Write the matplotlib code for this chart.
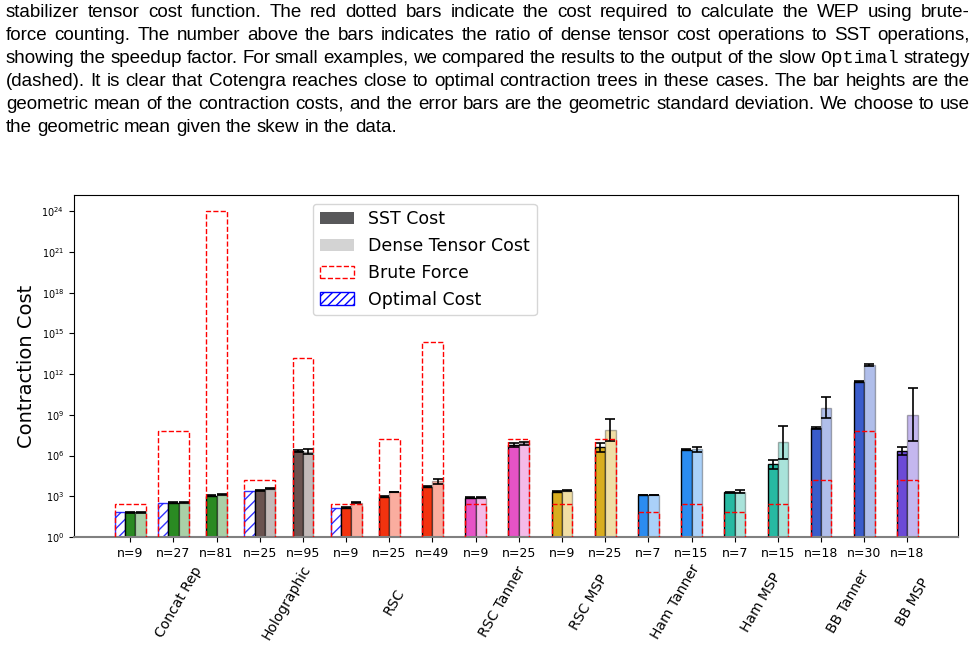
# Contraction cost comparison (SST vs dense tensor vs brute force), log scale bars

import numpy as np
import matplotlib
matplotlib.use("Agg")
import matplotlib.pyplot as plt
from matplotlib.patches import Patch
from matplotlib.colors import to_rgb

# ---- data (log10 of the cost) ----
families = ["Concat Rep", "Holographic", "RSC", "RSC Tanner", "RSC MSP",
            "Ham Tanner", "Ham MSP", "BB Tanner", "BB MSP"]
family_idx = [0, 0, 0, 1, 1, 2, 2, 2, 3, 3, 4, 4, 5, 5, 6, 6, 7, 7, 8]
n_values = [9, 27, 81, 25, 95, 9, 25, 49, 9, 25, 9, 25, 7, 15, 7, 15, 18, 30, 18]

sst_log = [1.82, 2.53, 3.05, 3.44, 6.35, 2.16, 2.97, 3.71, 2.90, 6.78,
           3.34, 6.62, 3.10, 6.42, 3.29, 5.35, 8.02, 11.45, 6.35]
sst_err_log = [0.02, 0.02, 0.03, 0.03, 0.05, 0.02, 0.03, 0.03, 0.02, 0.12,
               0.02, 0.33, 0.02, 0.04, 0.02, 0.33, 0.05, 0.05, 0.31]
dense_log = [1.82, 2.53, 3.12, 3.56, 6.30, 2.53, 3.32, 4.09, 2.91, 6.91,
             3.41, 7.89, 3.10, 6.45, 3.34, 6.97, 9.54, 12.68, 9.02]
dense_err_log = [0.02, 0.02, 0.03, 0.03, 0.22, 0.02, 0.03, 0.18, 0.02, 0.12,
                 0.03, 0.80, 0.02, 0.20, 0.10, 1.24, 0.74, 0.08, 1.94]
brute_log = [2.43, 7.84, 23.99, 4.23, 13.22, 2.43, 7.23, 14.40, 2.43, 7.20,
             2.43, 7.20, 1.82, 2.43, 1.82, 2.43, 4.20, 7.84, 4.20]
optimal_log = [1.82, 2.53, None, 3.42, None, 2.16, None, None, None, None,
               None, None, None, None, None, None, None, None, None]

family_colors = ["#2a8a22", "#6a5350", "#f2330f", "#e653c6", "#d9ad1f",
                 "#2b8cf0", "#27b9a2", "#3a5ccb", "#6c4ad6"]

caption_lines = [
    "stabilizer tensor cost function.  The red dotted bars indicate the cost required to calculate the WEP using brute-",
    "force counting.  The number above the bars indicates the ratio of dense tensor cost operations to SST operations,",
    "showing the speedup factor.  For small examples, we compared the results to the output of the slow Optimal strategy",
    "(dashed).  It is clear that Cotengra reaches close to optimal contraction trees in these cases.  The bar heights are the",
    "geometric mean of the contraction costs, and the error bars are the geometric standard deviation.  We choose to use",
    "the geometric mean given the skew in the data.",
]


def lighten(c, a=0.4):
    r, g, b = to_rgb(c)
    return (a * r + 1 - a, a * g + 1 - a, a * b + 1 - a)


W, H = 976, 650
fig = plt.figure(figsize=(W / 100, H / 100), dpi=100)
renderer = fig.canvas.get_renderer()

# ---- justified caption ----
left_px, right_px = 6, 970
for k, line in enumerate(caption_lines):
    y = 1 - (17 + 22.9 * k) / H
    words = line.split()
    texts = []
    for wd in words:
        fam = "Liberation Mono" if wd == "Optimal" else "Liberation Sans"
        texts.append(fig.text(0, y, wd, fontsize=13.5, family=fam, va="baseline", ha="left"))
    widths = [t.get_window_extent(renderer).width for t in texts]
    if k < len(caption_lines) - 1:
        gap = (right_px - left_px - sum(widths)) / (len(words) - 1)
    else:
        gap = 5
    x = left_px
    for t, wdt in zip(texts, widths):
        t.set_x(x / W)
        x += wdt + gap

# ---- bar chart ----
ax = fig.add_axes([74 / W, 1 - 537 / H, (958 - 74) / W, (537 - 195) / H])
ax.set_yscale("log")

xs = np.arange(len(n_values))
w = 0.24
cap = 3.7


def gerr(g, s_log):
    s = 10 ** s_log
    return [[g - g / s], [g * s - g]]


for i, x in enumerate(xs):
    col = family_colors[family_idx[i]]
    sst = 10 ** sst_log[i]
    dense = 10 ** dense_log[i]
    brute = 10 ** brute_log[i]
    if optimal_log[i] is not None:
        x_opt, x_sst, x_dense, span = x - w, x, x + w, 3 * w
        ax.bar(x_opt, 10 ** optimal_log[i], width=w, facecolor="white",
               edgecolor="blue", hatch="///", linewidth=1, alpha=0.8, zorder=2)
    else:
        x_sst, x_dense, span = x - w / 2, x + w / 2, 2 * w
    ax.bar(x_sst, sst, width=w, color=col, edgecolor="black", linewidth=1, zorder=2)
    ax.bar(x_dense, dense, width=w, color=lighten(col), edgecolor=(0, 0, 0, 0.3),
           linewidth=1, zorder=2)
    ax.errorbar(x_sst, sst, yerr=gerr(sst, sst_err_log[i]), fmt="none", ecolor="black",
                capsize=cap, elinewidth=1.2, capthick=1.2, zorder=3)
    ax.errorbar(x_dense, dense, yerr=gerr(dense, dense_err_log[i]), fmt="none", ecolor="black",
                capsize=cap, elinewidth=1.2, capthick=1.2, zorder=3)
    ax.bar(x, brute, width=span, facecolor="none", edgecolor="red", linestyle="--",
           linewidth=1, zorder=4)

ax.set_xlim(-1.3, 19.17)
ax.set_ylim(1, 10 ** 25.2)
ax.set_yticks([10.0 ** k for k in range(0, 25, 3)])
ax.yaxis.set_minor_locator(matplotlib.ticker.NullLocator())
ax.tick_params(axis="y", labelsize=7)
ax.set_xticks(xs)
ax.set_xticklabels([f"n={n}" for n in n_values], fontsize=9)
ax.set_ylabel("Contraction Cost", fontsize=14)
ax.spines["bottom"].set_color("gray")
ax.spines["bottom"].set_linewidth(1.5)

# family labels below the n= labels
for f, name in enumerate(families):
    members = [i for i in range(len(n_values)) if family_idx[i] == f]
    xc = np.mean(xs[members]) + 0.12
    ax.text(xc, -0.19, name, transform=ax.get_xaxis_transform(), rotation=60,
            ha="center", va="center", fontsize=10)

handles = [
    Patch(facecolor="#58585a", label="SST Cost"),
    Patch(facecolor="lightgray", label="Dense Tensor Cost"),
    Patch(facecolor="white", edgecolor="red", linestyle="--", label="Brute Force"),
    Patch(facecolor="white", edgecolor="blue", hatch="////", label="Optimal Cost"),
]
ax.legend(handles=handles, loc="upper left", bbox_to_anchor=(0.27, 0.975),
          borderaxespad=0, fontsize=12.5)

fig.savefig("out.png", dpi=100)
